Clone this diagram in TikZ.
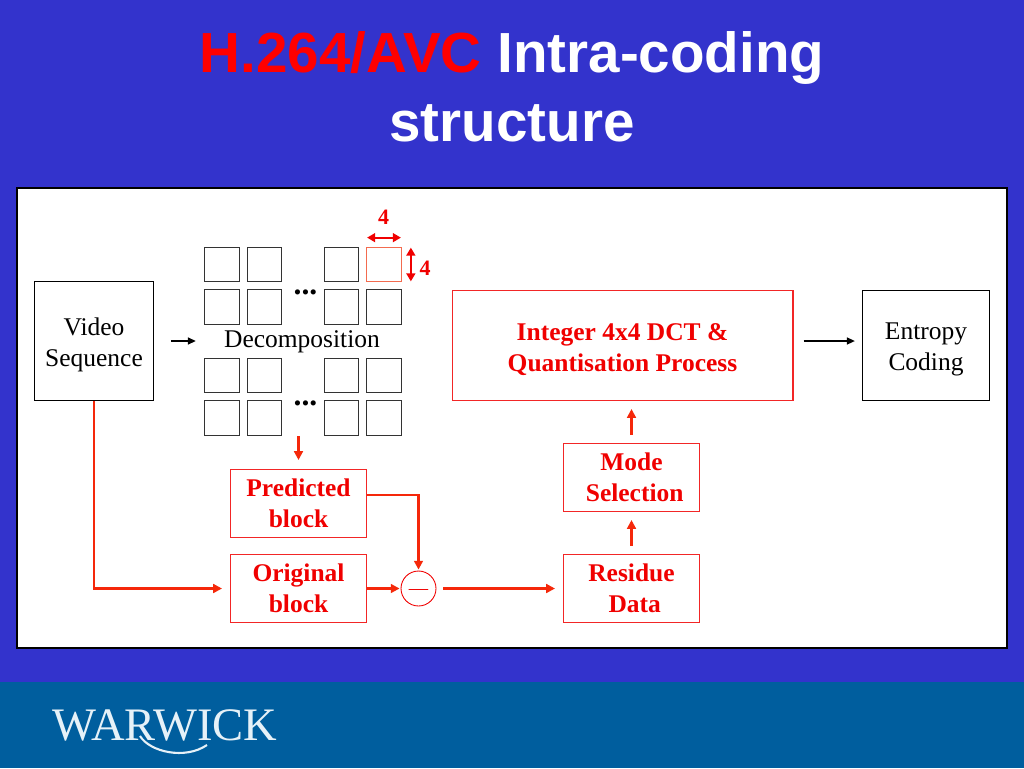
\documentclass[tikz,border=0pt]{standalone}
\usepackage{fontspec}
\setmainfont{Liberation Serif}
\setsansfont{Liberation Sans}
\usepackage{tikz}
\usetikzlibrary{arrows.meta,positioning,fit,calc}
\definecolor{slidebg}{HTML}{3333CC}
\definecolor{bandbg}{HTML}{005E9E}
\definecolor{logotext}{HTML}{E6F1F8}
\definecolor{hred}{HTML}{F00000}
\definecolor{flowline}{HTML}{F5280A}
\definecolor{blockline}{HTML}{F36B4F}
\newcommand{\toppad}{\rule{0pt}{14pt}}

\tikzset{
  plainbox/.style={draw=black, line width=0.5pt, fill=white, align=center, font=\fontsize{14.5}{17.6}\selectfont, inner sep=0pt},
  redbox/.style={draw=hred!85!white, line width=0.6pt, fill=white, align=center, text=hred, font=\fontsize{14.5}{17.6}\selectfont\bfseries, inner sep=0pt},
  gridblock/.style={draw=black!80, line width=0.7pt, minimum width=0.69cm, minimum height=0.69cm, inner sep=0pt},
  redflow/.style={flowline, line width=1.2pt, -{Triangle[length=5pt,width=5pt]}},
  blackflow/.style={black, line width=0.7pt, -{Triangle[length=4.5pt,width=4pt]}},
  dimarrow/.style={hred, line width=1pt, {Triangle[length=4.5pt,width=5pt]}-{Triangle[length=4.5pt,width=5pt]}},
  dimlabel/.style={text=hred, font=\fontsize{12.5}{15}\selectfont\bfseries},
  moredots/.style={font=\fontsize{18}{20}\selectfont\bfseries},
}

\begin{document}
\begin{tikzpicture}[x=0.02cm, y=-0.02cm]
\useasboundingbox (0,0) rectangle (1024,768);

% Slide background
\fill[slidebg] (0,0) rectangle (1024,768);
\fill[bandbg] (0,682) rectangle (1024,768);
\draw[black, fill=white, line width=0.7pt] (17,188) rectangle (1007,648);

% Title
\node[text=white, font=\fontsize{32.2}{39.3}\selectfont\sffamily\bfseries, align=center] (title) at (512,87)
  {\textcolor{red}{H.264/AVC} Intra-coding\\structure};

% Block grid
\foreach \row/\ypos in {1/264.5, 2/307, 3/375.5, 4/418}
  \foreach \col/\xpos in {1/222, 2/264.5, 3/341.5, 4/384}
    \node[gridblock] (b\row\col) at (\xpos,\ypos) {};
\node[gridblock, draw=blockline, fill=white] (b14) at (384,264.5) {};
\node[fit=(b11)(b44), inner sep=0pt] (blocks) {};
\node[font=\fontsize{14.5}{17}\selectfont] (decomp) at (302,341.5) {Decomposition};
\node[moredots] (dotsup) at (305.5,292.5) {...};
\node[moredots] (dotsdown) at (305.5,403.5) {...};

% Dimension marks
\coordinate (widthl) at ($(b14.north west)+(1,-9)$);
\coordinate (widthr) at ($(b14.north east)+(-1,-9)$);
\coordinate (heightt) at ($(b14.north east)+(9,1)$);
\coordinate (heightb) at ($(b14.south east)+(9,-1)$);
\draw[dimarrow] (widthl) -- (widthr);
\draw[dimarrow] (heightt) -- (heightb);
\node[dimlabel] (widthlabel) at (383.5,217) {4};
\node[dimlabel] (heightlabel) at (425,268.5) {4};

% Process boxes
\node[plainbox, minimum width=2.38cm, minimum height=2.38cm] (video) at (94,341) {\toppad Video\\Sequence};
\node[redbox, minimum width=6.82cm, minimum height=2.2cm] (dct) at (622.5,345.5)
  {\toppad Integer 4x4 DCT \&\\Quantisation Process};
\node[plainbox, minimum width=2.55cm, minimum height=2.2cm] (entropy) at (926,345.5) {\toppad Entropy\\Coding};
\node[redbox, minimum width=2.72cm, minimum height=1.36cm] (mode) at (631.5,477.5) {Mode\\\ Selection};
\node[redbox, minimum width=2.72cm, minimum height=1.36cm] (predicted) at (298.5,503.5) {Predicted\\block};
\node[redbox, minimum width=2.72cm, minimum height=1.36cm] (original) at (298.5,588.5) {Original\\block};
\node[redbox, minimum width=2.72cm, minimum height=1.36cm] (residue) at (631.5,588.5) {Residue\\\ Data};
\node[circle, draw=hred, line width=0.5pt, fill=white, minimum size=0.7cm, inner sep=0pt] (minus) at (418.5,588.5) {};
\node[text=hred, font=\fontsize{11}{12}\selectfont, inner sep=0pt] (minussign) at (418.5,591.5) {---};

% Black arrows
\draw[blackflow, shorten <=0.34cm, shorten >=0.16cm] (video.east) -- (video.east -| blocks.west);
\draw[blackflow, shorten <=0.2cm, shorten >=0.14cm] (video.east -| dct.east) -- (video.east -| entropy.west);

% Red arrows
\draw[redflow, shorten >=0.16cm] (video.south) |- (original.west);
\draw[redflow, shorten >=0.02cm] (predicted.east |- 0,495) -| (minus.north);
\draw[redflow, shorten >=0.02cm] (original.east) -- (minus.west);
\draw[redflow, shorten <=0.14cm, shorten >=0.16cm] (minus.east) -- (residue.west);
\draw[redflow, shorten <=0.16cm, shorten >=0.16cm] (residue.north) -- (mode.south);
\draw[redflow, shorten <=0.16cm, shorten >=0.16cm] (mode.north) -- (mode.north |- dct.south);
\draw[redflow, shorten >=0.18cm] (blocks.south -| predicted.north) -- (predicted.north);

% Logo
\node[text=logotext, font=\fontsize{26.5}{30}\selectfont, inner sep=0pt] (logo) at (165,725) {WARWICK};
\coordinate (swooshl) at (140,736);
\coordinate (swooshr) at (207,745);
\draw[logotext, line width=1.2pt] (swooshl) .. controls (150,752) and (185,760) .. (swooshr);
\end{tikzpicture}
\end{document}
